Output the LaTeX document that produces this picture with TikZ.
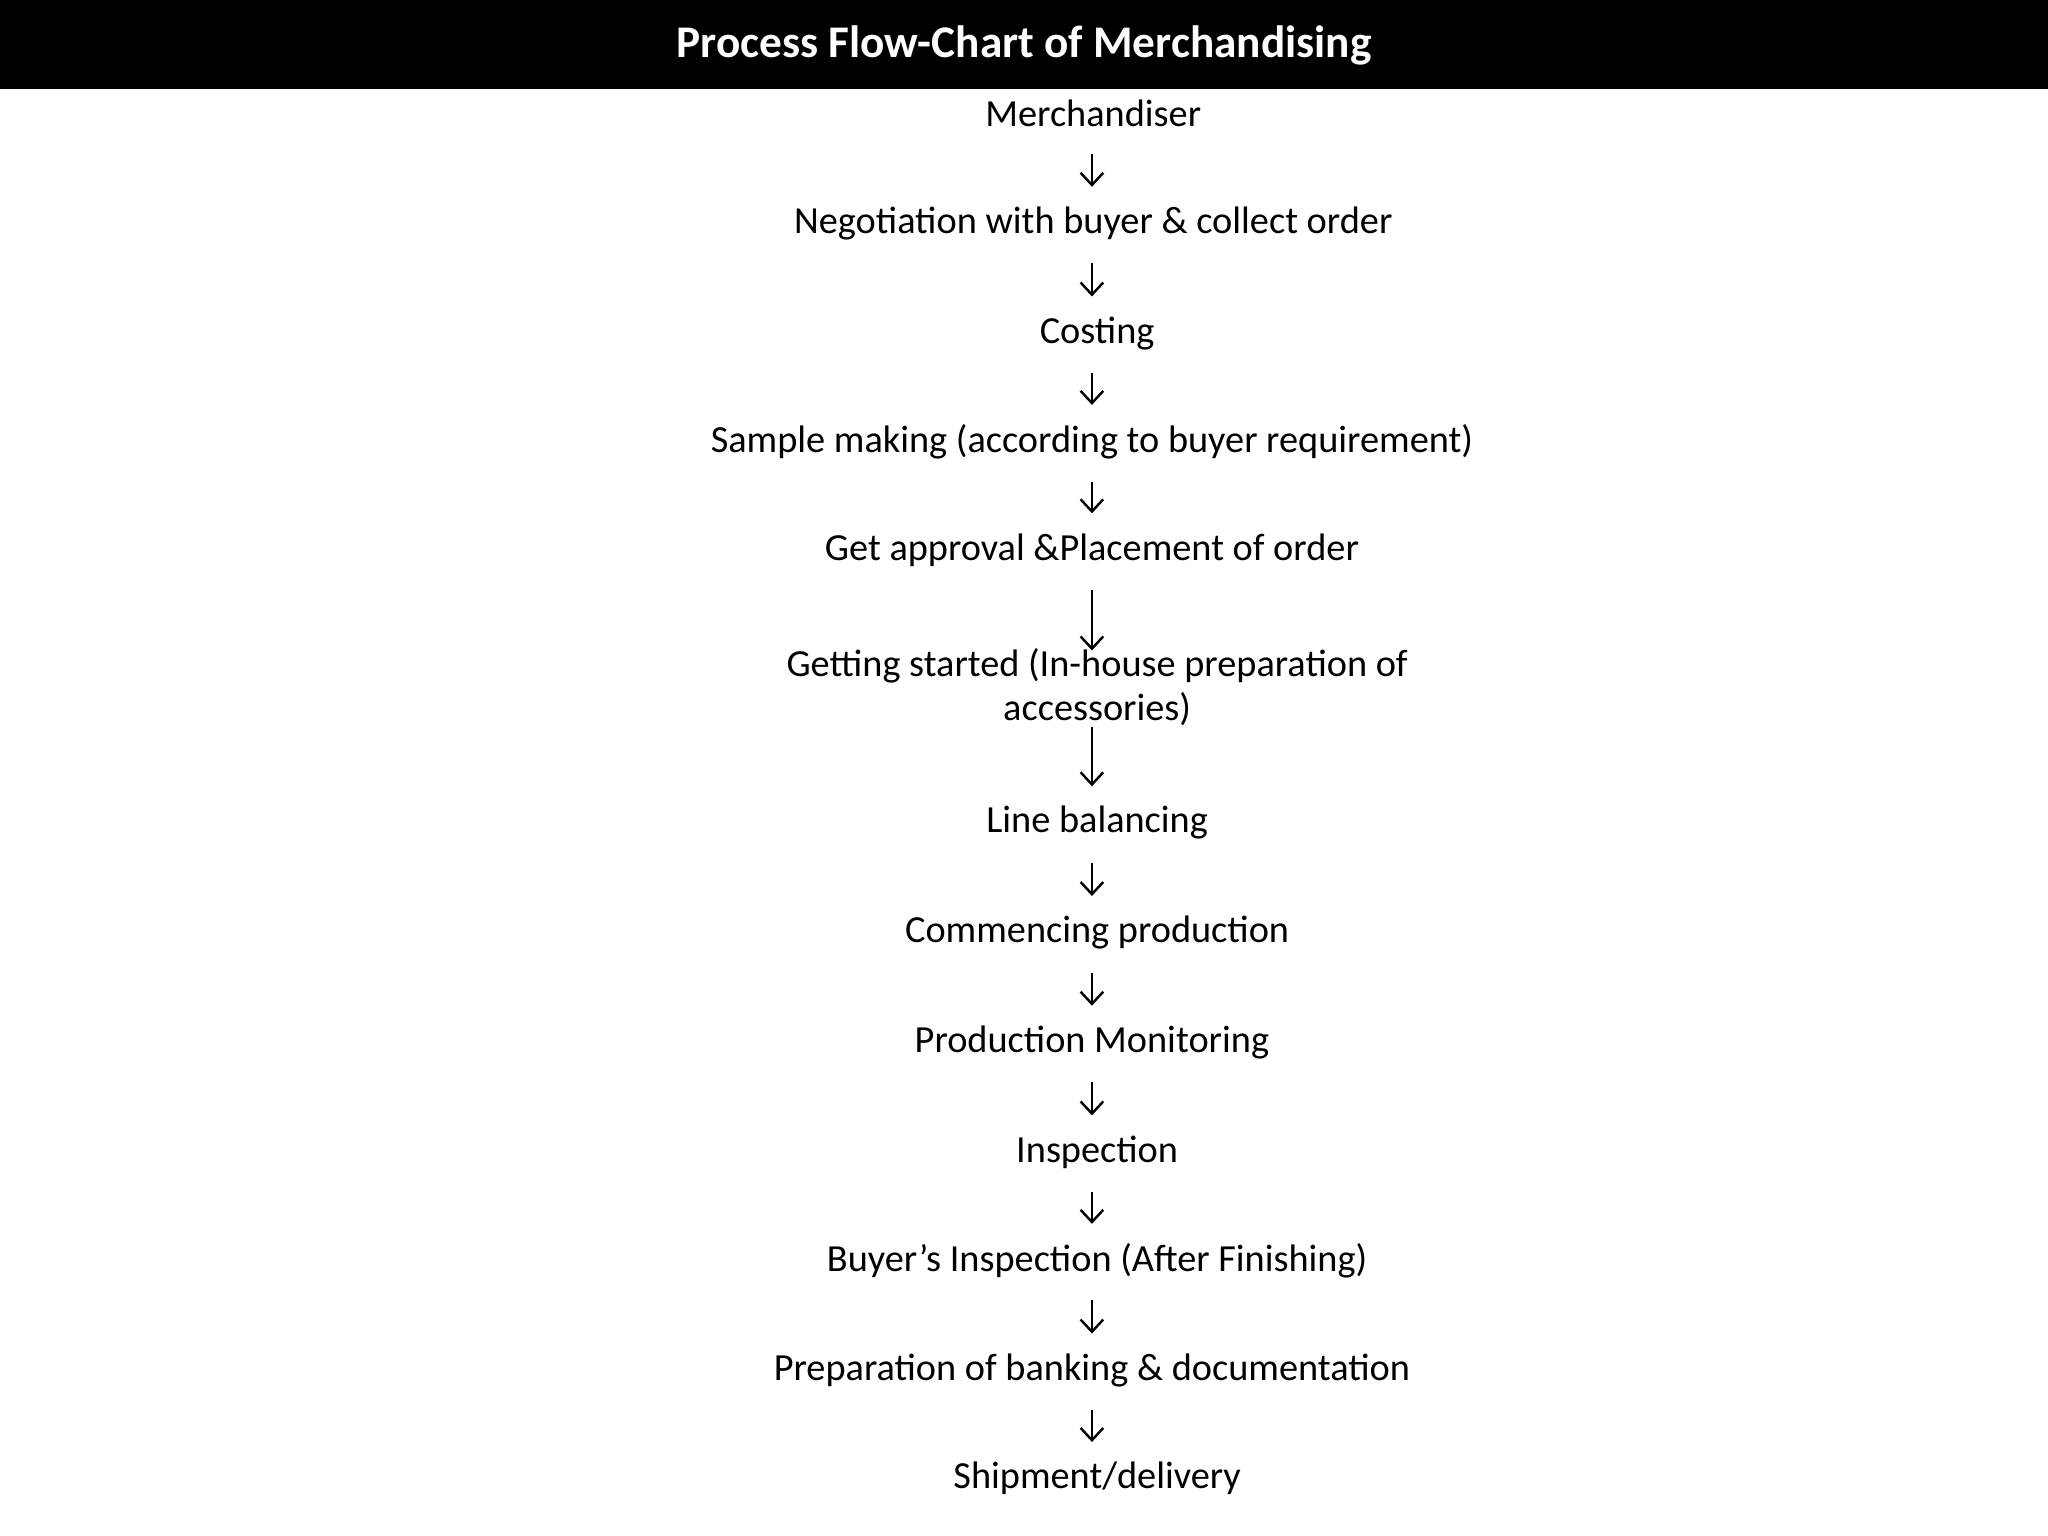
\documentclass[tikz,border=0pt]{standalone}
\usepackage{fontspec}
\setmainfont{Carlito}
\usetikzlibrary{arrows.meta}
\begin{document}
\begin{tikzpicture}[x=0.75pt,y=-0.75pt,
  stepbox/.style={font=\fontsize{22}{25}\selectfont,inner sep=0pt,align=center},
  arr/.style={line width=1.4pt,-{Straight Barb[length=7pt,width=13pt,line width=1.4pt]},shorten <=23pt,shorten >=21pt}]
\useasboundingbox (0,0) rectangle (1568,1176);
\fill[black] (0,0) rectangle (1568,68);
\node[font=\bfseries\fontsize{26}{30}\selectfont,text=white] (title) at (784,35) {Process Flow-Chart of Merchandising};
\node[stepbox] (n1) at (837,87) {Merchandiser};
\node[stepbox] (n2) at (837,171) {Negotiation with buyer \& collect order};
\node[stepbox] (n3) at (840,255) {Costing};
\node[stepbox] (n4) at (836,338) {Sample making (according to buyer requirement)};
\node[stepbox] (n5) at (836,421) {Get approval \&Placement of order};
\node[stepbox] (n6) at (840,526) {Getting started (In-house preparation of\\accessories)};
\node[stepbox] (n7) at (840,630) {Line balancing};
\node[stepbox] (n8) at (840,714) {Commencing production};
\node[stepbox] (n9) at (836,798) {Production Monitoring};
\node[stepbox] (n10) at (840,882) {Inspection};
\node[stepbox] (n11) at (840,965) {Buyer’s Inspection (After Finishing)};
\node[stepbox] (n12) at (836,1049) {Preparation of banking \& documentation};
\node[stepbox] (n13) at (840,1132) {Shipment/delivery};
\foreach \a/\b in {n1/n2,n2/n3,n3/n4,n4/n5,n5/n6,n6/n7,n7/n8,n8/n9,n9/n10,n10/n11,n11/n12,n12/n13}{
  \draw[arr] (\a.center -| 836,0) -- (\b.center -| 836,0);
}
\end{tikzpicture}
\end{document}
